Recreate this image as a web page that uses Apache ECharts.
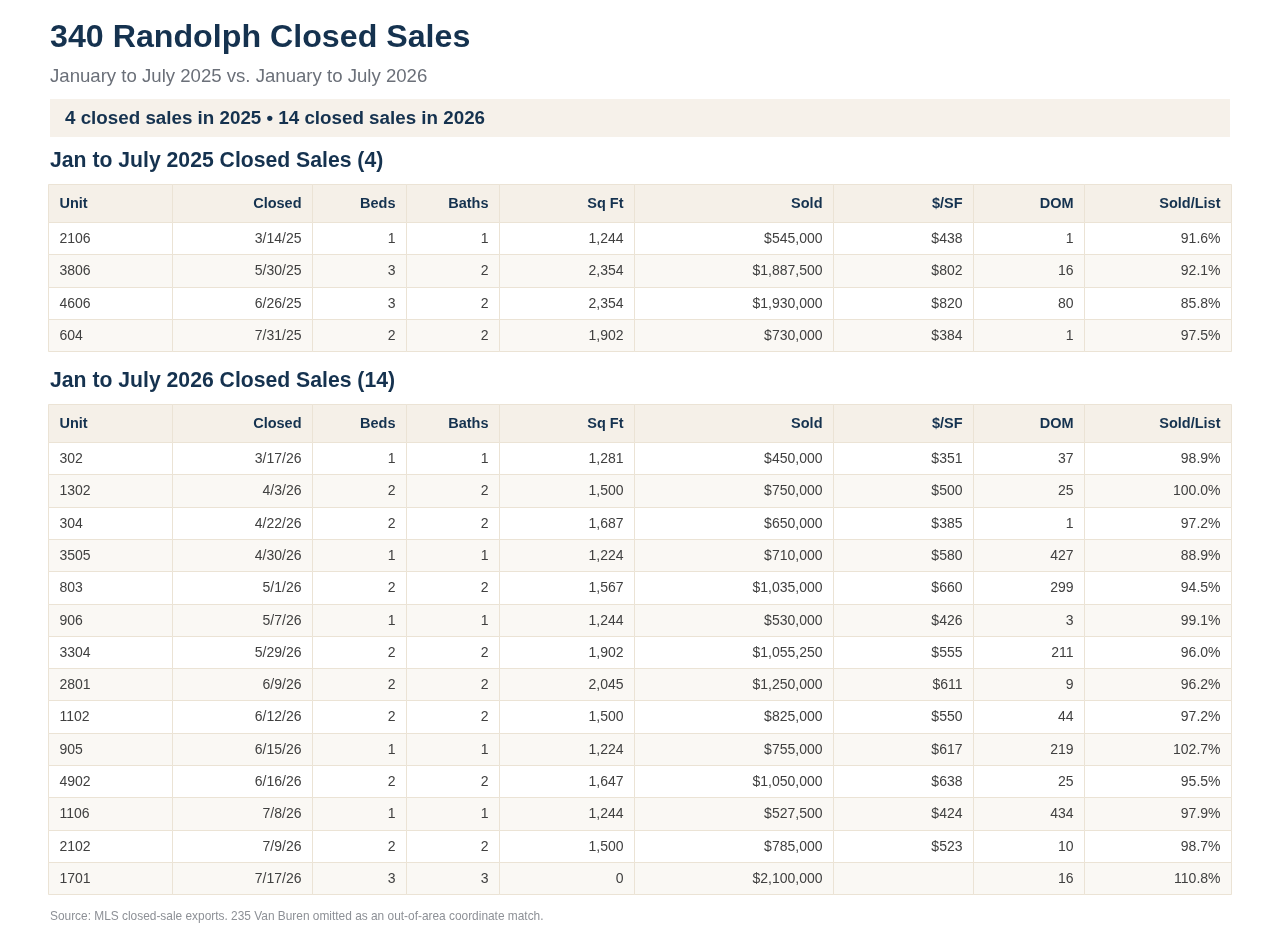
<!DOCTYPE html>
<html>
<head>
<meta charset="utf-8">
<script src="https://cdn.jsdelivr.net/npm/echarts@6/dist/echarts.min.js"></script>
<style>
  html, body { margin: 0; padding: 0; background: #ffffff; }
  #chart { width: 1280px; height: 948px; }
</style>
</head>
<body>
<div id="chart"></div>
<script>
// ---------- data ----------
const columns = ['Unit', 'Closed', 'Beds', 'Baths', 'Sq Ft', 'Sold', '$/SF', 'DOM', 'Sold/List'];

const unit2025 = ['2106', '3806', '4606', '604'];
const closed2025 = ['3/14/25', '5/30/25', '6/26/25', '7/31/25'];
const beds2025 = [1, 3, 3, 2];
const baths2025 = [1, 2, 2, 2];
const sqft2025 = [1244, 2354, 2354, 1902];
const sold2025 = [545000, 1887500, 1930000, 730000];
const ppsf2025 = [438, 802, 820, 384];
const dom2025 = [1, 16, 80, 1];
const soldList2025 = [91.6, 92.1, 85.8, 97.5];

const unit2026 = ['302', '1302', '304', '3505', '803', '906', '3304', '2801', '1102', '905', '4902', '1106', '2102', '1701'];
const closed2026 = ['3/17/26', '4/3/26', '4/22/26', '4/30/26', '5/1/26', '5/7/26', '5/29/26', '6/9/26', '6/12/26', '6/15/26', '6/16/26', '7/8/26', '7/9/26', '7/17/26'];
const beds2026 = [1, 2, 2, 1, 2, 1, 2, 2, 2, 1, 2, 1, 2, 3];
const baths2026 = [1, 2, 2, 1, 2, 1, 2, 2, 2, 1, 2, 1, 2, 3];
const sqft2026 = [1281, 1500, 1687, 1224, 1567, 1244, 1902, 2045, 1500, 1224, 1647, 1244, 1500, 0];
const sold2026 = [450000, 750000, 650000, 710000, 1035000, 530000, 1055250, 1250000, 825000, 755000, 1050000, 527500, 785000, 2100000];
const ppsf2026 = [351, 500, 385, 580, 660, 426, 555, 611, 550, 617, 638, 424, 523, null];
const dom2026 = [37, 25, 1, 427, 299, 3, 211, 9, 44, 219, 25, 434, 10, 16];
const soldList2026 = [98.9, 100.0, 97.2, 88.9, 94.5, 99.1, 96.0, 96.2, 97.2, 102.7, 95.5, 97.9, 98.7, 110.8];

const titleText = '340 Randolph Closed Sales';
const subtitleText = 'January to July 2025 vs. January to July 2026';
const bannerText = '4 closed sales in 2025 \u2022 14 closed sales in 2026';
const heading2025 = 'Jan to July 2025 Closed Sales (4)';
const heading2026 = 'Jan to July 2026 Closed Sales (14)';
const footerText = 'Source: MLS closed-sale exports. 235 Van Buren omitted as an out-of-area coordinate match.';

// ---------- formatting ----------
const fmtInt = v => v.toLocaleString('en-US');
const fmtMoney = v => (v === null || v === undefined) ? '' : '$' + v.toLocaleString('en-US');
const fmtPct = v => v.toFixed(1) + '%';

function buildRows(u, c, b, ba, sf, s, p, d, sl) {
  return u.map((_, i) => [u[i], c[i], String(b[i]), String(ba[i]), fmtInt(sf[i]), fmtMoney(s[i]), fmtMoney(p[i]), String(d[i]), fmtPct(sl[i])]);
}
const rows2025 = buildRows(unit2025, closed2025, beds2025, baths2025, sqft2025, sold2025, ppsf2025, dom2025, soldList2025);
const rows2026 = buildRows(unit2026, closed2026, beds2026, baths2026, sqft2026, sold2026, ppsf2026, dom2026, soldList2026);

// ---------- layout ----------
const TABLE_LEFT = 48;
const colEdges = [0, 124, 264, 358, 451, 586, 785, 925, 1036, 1183];
const TABLE_W = colEdges[colEdges.length - 1];
const HEADER_H = 38;
const ROW_H = 32.3;
const PAD = 11;

const C = {
  navy: '#15324f',
  body: '#404040',
  sub: '#6b7079',
  headerBg: '#f5f0e8',
  altBg: '#faf8f4',
  border: '#ebe3d5',
  banner: '#f6f1ea',
  footer: '#8d9096'
};

function tableData(rows) {
  const data = [];
  const texts = [];
  columns.forEach((h, ci) => { data.push([ci, 0]); texts.push(h); });
  rows.forEach((r, ri) => r.forEach((t, ci) => { data.push([ci, ri + 1]); texts.push(t); }));
  return { data, texts };
}

function rowTop(r) { return r === 0 ? 0 : HEADER_H + (r - 1) * ROW_H; }
function rowBottom(r) { return r === 0 ? HEADER_H : HEADER_H + r * ROW_H; }

function makeRender(texts) {
  return function (params, api) {
    const ci = api.value(0), ri = api.value(1);
    const p0 = api.coord([colEdges[ci], rowTop(ri)]);
    const p1 = api.coord([colEdges[ci + 1], rowBottom(ri)]);
    const x0 = Math.round(p0[0]) + 0.5, y0 = Math.round(p0[1]) + 0.5;
    const x1 = Math.round(p1[0]) + 0.5, y1 = Math.round(p1[1]) + 0.5;
    const isHeader = ri === 0;
    const fill = isHeader ? C.headerBg : (ri % 2 === 0 ? C.altBg : '#ffffff');
    const left = ci === 0;
    return {
      type: 'group',
      children: [
        { type: 'rect', shape: { x: x0, y: y0, width: x1 - x0, height: y1 - y0 },
          style: { fill: fill, stroke: C.border, lineWidth: 1 } },
        { type: 'text',
          style: {
            x: left ? x0 + PAD : x1 - PAD,
            y: (y0 + y1) / 2 + 0.5,
            text: texts[params.dataIndex],
            align: left ? 'left' : 'right',
            verticalAlign: 'middle',
            fill: isHeader ? C.navy : C.body,
            font: (isHeader ? 'bold 14.5px ' : '14px ') + '"Liberation Sans", Arial, Helvetica, sans-serif'
          } }
      ]
    };
  };
}

const t1 = tableData(rows2025);
const t2 = tableData(rows2026);
const h1 = HEADER_H + rows2025.length * ROW_H;
const h2 = HEADER_H + rows2026.length * ROW_H;

const FONT = '"Liberation Sans", Arial, Helvetica, sans-serif';

const chart = echarts.init(document.getElementById('chart'), null, { renderer: 'canvas' });
chart.setOption({
  backgroundColor: '#ffffff',
  animation: false,
  grid: [
    { left: TABLE_LEFT, top: 184, width: TABLE_W, height: h1, containLabel: false },
    { left: TABLE_LEFT, top: 404, width: TABLE_W, height: h2, containLabel: false }
  ],
  xAxis: [
    { type: 'value', gridIndex: 0, min: 0, max: TABLE_W, show: false },
    { type: 'value', gridIndex: 1, min: 0, max: TABLE_W, show: false }
  ],
  yAxis: [
    { type: 'value', gridIndex: 0, min: 0, max: h1, inverse: true, show: false },
    { type: 'value', gridIndex: 1, min: 0, max: h2, inverse: true, show: false }
  ],
  graphic: [
    { type: 'rect', left: 50, top: 99, shape: { width: 1180, height: 38 }, style: { fill: C.banner }, z: 0 },
    { type: 'text', x: 50, y: 38, style: { text: titleText, font: 'bold 32.2px ' + FONT, fill: C.navy, verticalAlign: 'middle' } },
    { type: 'text', x: 50, y: 76.5, style: { text: subtitleText, font: '18.6px ' + FONT, fill: C.sub, verticalAlign: 'middle' } },
    { type: 'text', x: 65, y: 118.5, style: { text: bannerText, font: 'bold 18.8px ' + FONT, fill: C.navy, verticalAlign: 'middle' }, z: 2 },
    { type: 'text', x: 50, y: 161, style: { text: heading2025, font: 'bold 21.2px ' + FONT, fill: C.navy, verticalAlign: 'middle' } },
    { type: 'text', x: 50, y: 381, style: { text: heading2026, font: 'bold 21.2px ' + FONT, fill: C.navy, verticalAlign: 'middle' } },
    { type: 'text', x: 50, y: 917, style: { text: footerText, font: '11.9px ' + FONT, fill: C.footer, verticalAlign: 'middle' } }
  ],
  series: [
    { type: 'custom', xAxisIndex: 0, yAxisIndex: 0, data: t1.data, renderItem: makeRender(t1.texts), silent: true, clip: false },
    { type: 'custom', xAxisIndex: 1, yAxisIndex: 1, data: t2.data, renderItem: makeRender(t2.texts), silent: true, clip: false }
  ]
});
</script>
</body>
</html>
